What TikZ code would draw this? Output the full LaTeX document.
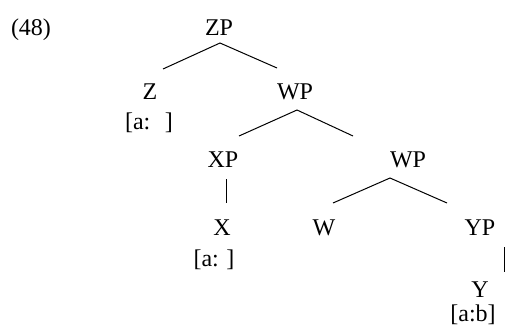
\documentclass[tikz,border=0pt]{standalone}
\usepackage{fontspec}
\setmainfont{Liberation Serif}
\usetikzlibrary{calc}
\begin{document}
\begin{tikzpicture}[x=0.5pt,y=-0.5pt,
  lbl/.style={anchor=base,inner sep=0pt,font=\fontsize{12}{14}\selectfont},
  branch/.style={line width=0.5pt}]
\useasboundingbox (0,0) rectangle (507,332);
\node[lbl] (n48) at (31,35) {(48)};
\node[lbl] (ZP) at (219,35) {ZP};
\node[lbl] (Z) at (150,99) {Z};
\node[lbl] (Zf) at (149,129) {[a:\hspace{7.3pt}]};
\node[lbl] (WPa) at (295,99) {WP};
\node[lbl] (XP) at (223,167) {XP};
\node[lbl] (WPb) at (408,167) {WP};
\node[lbl] (X) at (222,235) {X};
\node[lbl] (Xf) at (214,266) {[a:\hspace{3.8pt}]};
\node[lbl] (W) at (324,235) {W};
\node[lbl] (YP) at (480,235) {YP};
\node[lbl] (Y) at (480,297) {Y};
\node[lbl] (Yf) at (473,321) {[a:b]};
% ZP branches
\draw[branch] ($(Z.base)+(13,-30)$) -- ($(ZP.base)+(1,8)$) -- ($(WPa.base)+(-18,-31)$);
% WP branches
\draw[branch] ($(XP.base)+(16,-31)$) -- ($(WPa.base)+(2,11)$) -- ($(WPb.base)+(-55,-31)$);
% XP - X
\draw[branch] ($(XP.base)+(3,12)$) -- ($(X.base)+(4,-32)$);
% WP branches
\draw[branch] ($(W.base)+(9,-32)$) -- ($(WPb.base)+(-18,11)$) -- ($(YP.base)+(-33,-32)$);
% YP - Y
\draw[branch] ($(YP.base)+(24,12)$) -- ($(Y.base)+(24,-25)$);
\end{tikzpicture}
\end{document}
